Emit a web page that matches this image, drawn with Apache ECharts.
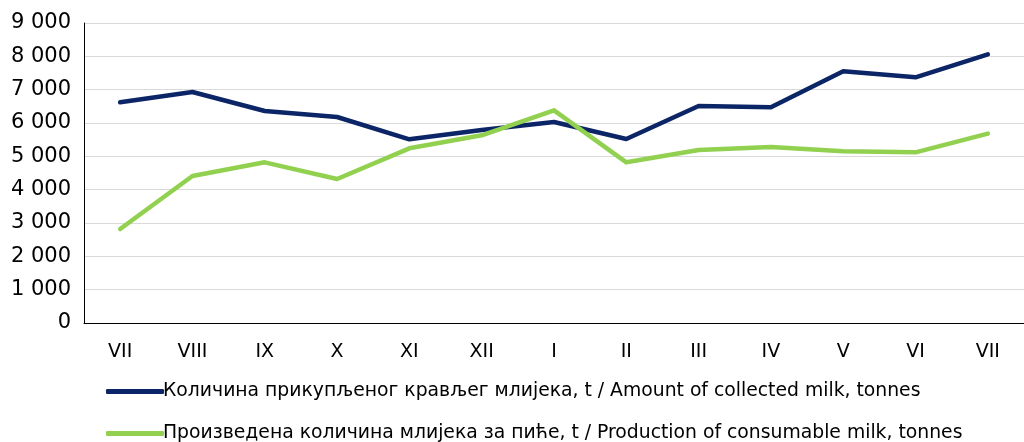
<!DOCTYPE html>
<html>
<head>
<meta charset="utf-8">
<script src="https://cdn.jsdelivr.net/npm/echarts@6/dist/echarts.min.js"></script>
<style>
  html, body { margin: 0; padding: 0; background: #fff; }
  #main { width: 1024px; height: 442px; }
</style>
</head>
<body>
<div id="main"></div>
<script>
// months (Roman numerals)
var months = ['VII', 'VIII', 'IX', 'X', 'XI', 'XII', 'I', 'II', 'III', 'IV', 'V', 'VI', 'VII'];

// Amount of collected milk, tonnes
var collected = [6620, 6930, 6360, 6180, 5510, 5790, 6030, 5520, 6510, 6470, 7550, 7370, 8060];
// Production of consumable milk, tonnes
var consumable = [2820, 4410, 4820, 4320, 5240, 5630, 6380, 4820, 5190, 5280, 5150, 5120, 5680];

var seriesNames = [
  'Количина прикупљеног крављег млијека, t / Amount of collected milk, tonnes',
  'Произведена количина млијека за пиће, t / Production of consumable milk, tonnes'
];

var font = '"DejaVu Sans", sans-serif';

function legendRow(name, top) {
  return {
    left: 101,
    top: top,
    icon: 'roundRect',
    itemWidth: 58,
    itemHeight: 5,
    itemGap: 0,
    textStyle: { fontFamily: font, fontSize: 18.8, color: '#000', padding: [0, 0, 0, -6] },
    data: [name]
  };
}

var myChart = echarts.init(document.getElementById('main'));
var option = {
  animation: false,
  textStyle: { fontFamily: font },
  grid: {
    left: 84,
    right: -10,
    top: 23,
    height: 300
  },
  legend: [
    legendRow(seriesNames[0], 377),
    legendRow(seriesNames[1], 419)
  ],
  xAxis: {
    type: 'category',
    boundaryGap: true,
    data: months,
    axisLine: { show: true, lineStyle: { color: '#000', width: 1 } },
    axisTick: { show: false },
    axisLabel: { color: '#000', fontSize: 19, margin: 20, fontFamily: font }
  },
  yAxis: {
    type: 'value',
    min: 0,
    max: 9000,
    interval: 1000,
    axisLine: { show: true, lineStyle: { color: '#000', width: 1 } },
    axisTick: { show: false },
    splitLine: { lineStyle: { color: '#d9d9d9', width: 1 } },
    axisLabel: {
      color: '#000',
      fontSize: 21,
      margin: 13,
      fontFamily: font,
      formatter: function (v) {
        return String(v).replace(/\B(?=(\d{3})+(?!\d))/g, ' ');
      }
    }
  },
  series: [
    {
      name: seriesNames[0],
      type: 'line',
      data: collected,
      showSymbol: false,
      itemStyle: { color: '#0b2566' },
      lineStyle: { color: '#0b2566', width: 4.5, cap: 'round', join: 'round' }
    },
    {
      name: seriesNames[1],
      type: 'line',
      data: consumable,
      showSymbol: false,
      itemStyle: { color: '#92d050' },
      lineStyle: { color: '#92d050', width: 4.5, cap: 'round', join: 'round' }
    }
  ]
};
myChart.setOption(option);
</script>
</body>
</html>
